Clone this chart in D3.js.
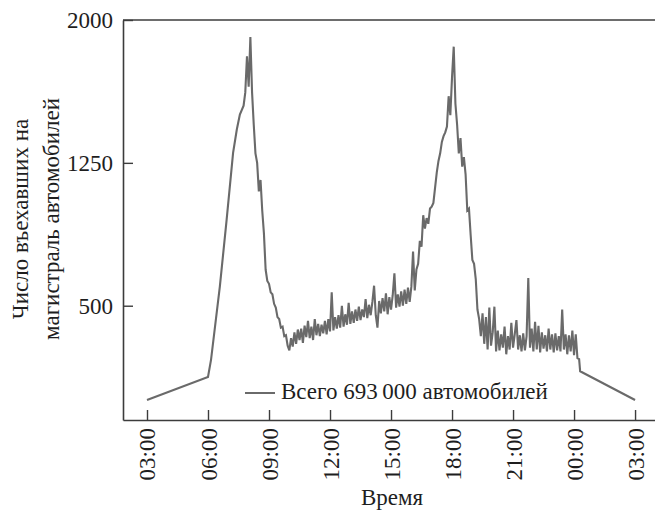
<!DOCTYPE html>
<html>
<head>
<meta charset="utf-8">
<script src="https://cdn.jsdelivr.net/npm/d3@7"></script>
</head>
<body style="margin:0;background:#fff">
<svg id="chart" width="655" height="512" style="display:block" font-family="Times New Roman"></svg>
<script>
// Early-morning ramp (sparse readings), clock times of day 1
const rampTimes  = ["03:00", "06:00", "06:09", "06:35", "06:55", "07:14", "07:25", "07:34"];
const rampValues = [5, 126, 217, 602, 952, 1302, 1425, 1504];

// Dense readings every 5 minutes from 07:45 to 00:15
const denseStart = "07:45";
const denseStepMinutes = 5;
const denseValues = [
  1550, 1620, 1810,
  1650, 1910, 1620, 1450, 1300, 1250, 1100, 1160, 1000, 880, 690, 630,
  615, 570, 560, 510, 490, 440, 430, 385, 390, 340, 345, 290,
  265, 330, 285, 360, 300, 375, 320, 380, 305, 395, 335, 420,
  330, 390, 320, 430, 345, 405, 340, 400, 355, 420, 350, 430,
  365, 570, 370, 440, 380, 450, 385, 500, 390, 455, 400, 515,
  405, 470, 410, 480, 420, 495, 425, 480, 440, 535, 435, 505,
  450, 520, 605, 450, 385, 525, 460, 540, 470, 565, 455, 545,
  480, 555, 670, 490, 560, 495, 575, 500, 585, 510, 595, 520,
  600, 785, 580, 690, 720, 840, 810, 975, 905, 960, 930, 1010,
  1020, 1040, 1120, 1200, 1260, 1300, 1360, 1390, 1410, 1440, 1600, 1500,
  1700, 1860, 1560, 1450, 1300, 1380, 1230, 1280, 1190, 1000, 1010, 870,
  740, 720, 640, 480, 430, 340, 460, 300, 440, 270, 490, 290,
  360, 495, 260, 370, 265, 350, 280, 390, 245, 340, 270, 410,
  280, 350, 425, 270, 345, 260, 355, 265, 340, 645, 280, 380,
  260, 415, 270, 395, 255, 360, 275, 345, 260, 380, 270, 350,
  255, 355, 265, 340, 260, 480, 270, 350, 245, 345, 260, 370,
  240, 350, 225, 220
];

// Night tail after midnight (day 2)
const tailTimes  = ["00:18", "03:00"];
const tailValues = [156, 5];

const xTickLabels = ["03:00", "06:00", "09:00", "12:00", "15:00", "18:00", "21:00", "00:00", "03:00"];
const yTickValues = [500, 1250, 2000];

const yTitleLines = ["Число въехавших на", "магистраль автомобилей"];
const xTitle = "Время";
const legendText = "Всего 693\u2009000 автомобилей";

// ---- helpers ----
const clock = s => { const [h, m] = s.split(":").map(Number); return h + m / 60; };

const series = [];
rampTimes.forEach((t, i) => series.push({ t: clock(t), v: rampValues[i] }));
const t0 = clock(denseStart);
denseValues.forEach((v, i) => series.push({ t: t0 + i * denseStepMinutes / 60, v }));
tailTimes.forEach((t, i) => series.push({ t: clock(t) + 24, v: tailValues[i] }));

// tick positions: clock hours, rolling past midnight
const xTicks = [];
let dayOffset = 0;
xTickLabels.forEach((s, i) => {
  let h = clock(s) + dayOffset;
  if (i > 0 && h <= xTicks[i - 1]) { dayOffset += 24; h += 24; }
  xTicks.push(h);
});

// ---- layout ----
const svg = d3.select("#chart");
const plotLeft = 123, plotTop = 20, plotRight = 656, plotBottom = 420;

const x = d3.scaleLinear().domain([1.82, 28.03]).range([plotLeft, plotRight]);
const y = d3.scaleLinear().domain([-100, 2000]).range([plotBottom, plotTop]);

const axisColor = "#3c3c3c";
const textColor = "#1e1e1e";
const lineColor = "#6a6a6a";
const fontSize = 23;

// shared text styling: serif face set both as attribute and as inline font shorthand
function styleText(sel) {
  sel.attr("font-family", "Times New Roman")
    .attr("font-size", fontSize)
    .attr("style", `font: ${fontSize}px 'Times New Roman', 'Liberation Serif', Tinos, serif`)
    .attr("fill", textColor);
}

// data line
svg.append("path")
  .datum(series)
  .attr("fill", "none")
  .attr("stroke", lineColor)
  .attr("stroke-width", 2.1)
  .attr("stroke-linejoin", "miter")
  .attr("d", d3.line().x(d => x(d.t)).y(d => y(d.v)));

// bottom axis, ticks pointing inward
const gx = svg.append("g")
  .attr("transform", `translate(0,${plotBottom})`)
  .call(d3.axisBottom(x)
    .tickValues(xTicks)
    .tickFormat((d, i) => xTickLabels[i])
    .tickSizeInner(-10)
    .tickSizeOuter(0));
gx.attr("font-family", "Times New Roman").attr("font-size", fontSize);
gx.select(".domain").attr("stroke", axisColor).attr("stroke-width", 1.6);
gx.selectAll(".tick line").attr("stroke", axisColor).attr("stroke-width", 1.4);
gx.selectAll(".tick text")
  .call(styleText)
  .attr("text-anchor", "end")
  .attr("dy", null)
  .attr("y", null)
  .attr("transform", "translate(8,8) rotate(-90)");

// left axis, ticks pointing inward
const gy = svg.append("g")
  .attr("transform", `translate(${plotLeft},0)`)
  .call(d3.axisLeft(y)
    .tickValues(yTickValues)
    .tickFormat(d3.format("d"))
    .tickSizeInner(-10)
    .tickSizeOuter(0)
    .tickPadding(10));
gy.attr("font-family", "Times New Roman").attr("font-size", fontSize);
gy.select(".domain").attr("stroke", axisColor).attr("stroke-width", 1.6);
gy.selectAll(".tick line").attr("stroke", axisColor).attr("stroke-width", 1.4);
gy.selectAll(".tick text").call(styleText);

// top and right frame lines
svg.append("line")
  .attr("x1", plotLeft).attr("x2", plotRight)
  .attr("y1", plotTop).attr("y2", plotTop)
  .attr("stroke", axisColor).attr("stroke-width", 1.6);
svg.append("line")
  .attr("x1", plotRight).attr("x2", plotRight)
  .attr("y1", plotTop).attr("y2", plotBottom)
  .attr("stroke", axisColor).attr("stroke-width", 1.6);

// axis titles
yTitleLines.forEach((line, i) => {
  svg.append("text")
    .attr("transform", `translate(${28 + i * 31},219) rotate(-90)`)
    .attr("text-anchor", "middle")
    .call(styleText)
    .text(line);
});
svg.append("text")
  .attr("x", 392).attr("y", 505)
  .attr("text-anchor", "middle")
  .call(styleText)
  .text(xTitle);

// legend
svg.append("line")
  .attr("x1", 245).attr("x2", 275)
  .attr("y1", 393).attr("y2", 393)
  .attr("stroke", lineColor).attr("stroke-width", 2);
svg.append("text")
  .attr("x", 281).attr("y", 399)
  .call(styleText)
  .text(legendText);
</script>
</body>
</html>
